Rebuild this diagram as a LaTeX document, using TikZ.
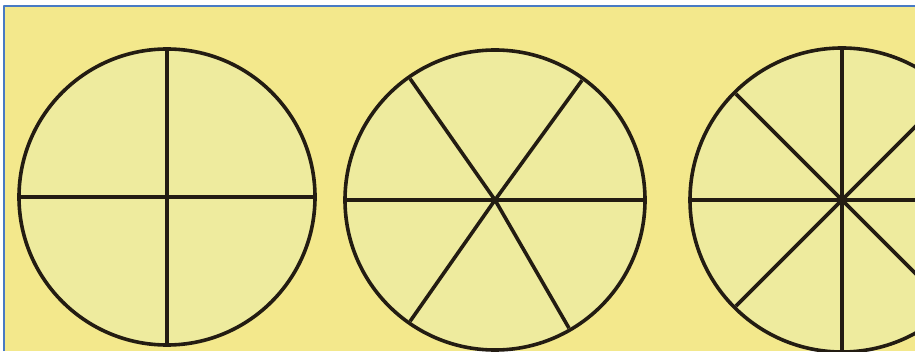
\documentclass[tikz,border=0pt]{standalone}
\usetikzlibrary{positioning}
\definecolor{paper}{RGB}{243,232,140}
\definecolor{disc}{RGB}{238,235,158}
\definecolor{ink}{RGB}{35,28,18}
\definecolor{frameblue}{RGB}{72,122,196}
\begin{document}
\begin{tikzpicture}[x=1pt,y=1pt,line join=round]
\useasboundingbox (0,0) rectangle (915,351);
\clip (0,0) rectangle (915,351);
\fill[white] (0,0) rectangle (915,351);
\fill[paper] (4,0) rectangle (915,345);
\draw[frameblue,line width=2.6pt] (4,0)--(4,345)--(915,345);
\coordinate (c1) at (167,154);
\coordinate (c2) at (495,151);
\coordinate (c3) at (842,151);
% quarters
\fill[disc] (c1) circle (148);
\foreach \a in {0,90,180,270} \draw[ink,line width=3.6pt] (c1)--++(\a:148);
\draw[ink,line width=3.6pt] (c1) circle (148);
% sixths
\fill[disc] (c2) circle (150);
\foreach \a in {0,54,125,180,235,300} \draw[ink,line width=3.6pt] (c2)--++(\a:148);
\draw[ink,line width=3.6pt] (c2) circle (150);
% eighths
\fill[disc] (c3) circle (152);
\foreach \a in {0,45,...,315} \draw[ink,line width=3.6pt] (c3)--++(\a:150);
\draw[ink,line width=3.6pt] (c3) circle (152);
\end{tikzpicture}
\end{document}
